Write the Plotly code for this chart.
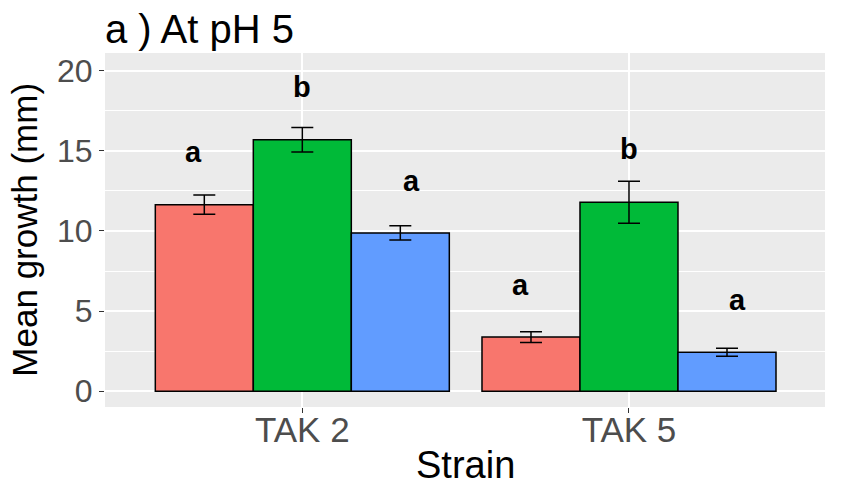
import plotly.graph_objects as go

strains = ["TAK 2", "TAK 5"]
group_names = ["Group 1", "Group 2", "Group 3"]
colors = ["#F8766D", "#00BA38", "#619CFF"]

mean_g1 = [11.64, 3.38]
mean_g2 = [15.69, 11.79]
mean_g3 = [9.88, 2.44]
se_g1 = [0.60, 0.33]
se_g2 = [0.76, 1.31]
se_g3 = [0.44, 0.25]
letters_g1 = ["a", "a"]
letters_g2 = ["b", "b"]
letters_g3 = ["a", "a"]
letter_y_g1 = [14.9, 6.6]
letter_y_g2 = [19.0, 15.1]
letter_y_g3 = [13.1, 5.7]

y_ticks = [0, 5, 10, 15, 20]

means = [mean_g1, mean_g2, mean_g3]
ses = [se_g1, se_g2, se_g3]
letters = [letters_g1, letters_g2, letters_g3]
letter_ys = [letter_y_g1, letter_y_g2, letter_y_g3]

FONT = "Liberation Sans, Arial, sans-serif"

fig = go.Figure()
for name, col, m, s in zip(group_names, colors, means, ses):
    fig.add_trace(go.Bar(
        x=strains, y=m, name=name, showlegend=False,
        marker=dict(color=col, line=dict(color="black", width=1.5)),
        error_y=dict(type="data", array=s, visible=True, color="black",
                     thickness=1.5, width=11),
    ))

# letters above bars (text dodged with width 1.0)
n = len(group_names)
dodge_w = 1.0
step = dodge_w / n
annotations = []
for gi in range(n):
    off = -dodge_w / 2 + step * (gi + 0.5)
    for si, st in enumerate(strains):
        annotations.append(dict(
            x=si + off, y=letter_ys[gi][si], xref="x", yref="y",
            text="<b>%s</b>" % letters[gi][si], showarrow=False,
            font=dict(family=FONT, size=29, color="black"),
            xanchor="center", yanchor="middle"))

annotations.append(dict(
    x=-0.113, y=0.5, xref="paper", yref="paper", text="Mean growth (mm)",
    textangle=-90, showarrow=False, xanchor="center", yanchor="middle",
    font=dict(family=FONT, size=35, color="black")))
annotations.append(dict(
    x=0.5, y=-0.164, xref="paper", yref="paper", text="Strain",
    showarrow=False, xanchor="center", yanchor="middle",
    font=dict(family=FONT, size=38, color="black")))

fig.update_layout(
    width=841, height=486,
    margin=dict(l=105, r=16, t=53, b=79),
    paper_bgcolor="white", plot_bgcolor="#EBEBEB",
    barmode="group", bargap=0.1, bargroupgap=0,
    title=dict(text="a ) At pH 5", x=105/841, xanchor="left", xref="container",
               y=1 - 29/486, yanchor="middle", yref="container",
               font=dict(family=FONT, size=40, color="black")),
    annotations=annotations,
    xaxis=dict(range=[-0.604, 1.6], showgrid=True, gridcolor="white", gridwidth=1.5,
               ticks="outside", ticklen=5, tickcolor="#333333", tickwidth=1.2,
               tickfont=dict(family=FONT, size=35, color="#4D4D4D"),
               ticklabelstandoff=-13,
               zeroline=False, showline=False),
    yaxis=dict(range=[-0.98, 21.1], tickvals=y_ticks, showgrid=True,
               gridcolor="white", gridwidth=1.8,
               minor=dict(dtick=2.5, tick0=0, showgrid=True, gridcolor="white", gridwidth=1),
               ticks="outside", ticklen=5, tickcolor="#333333", tickwidth=1.2,
               tickfont=dict(family=FONT, size=32, color="#4D4D4D"),
               zeroline=False, showline=False),
)

fig.write_html("out.html")
